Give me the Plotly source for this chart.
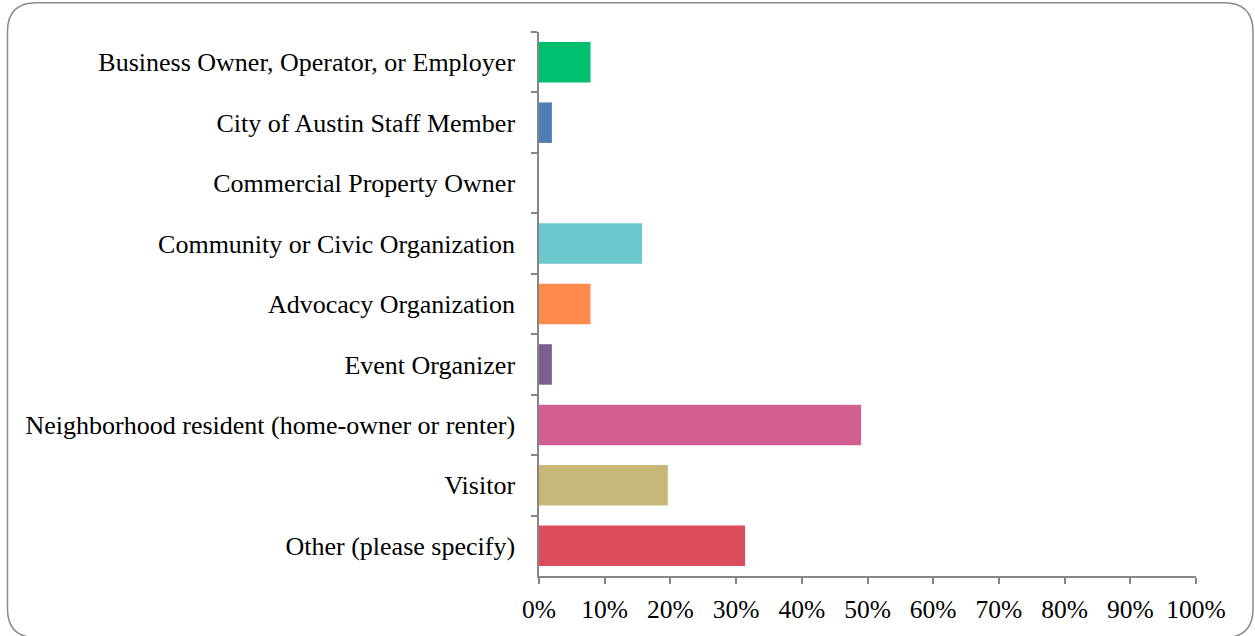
import plotly.graph_objects as go

categories = [
    "Business Owner, Operator, or Employer",
    "City of Austin Staff Member",
    "Commercial Property Owner",
    "Community or Civic Organization",
    "Advocacy Organization",
    "Event Organizer",
    "Neighborhood resident (home-owner or renter)",
    "Visitor",
    "Other (please specify)",
]
percent_values = [7.84, 1.96, 0.0, 15.69, 7.84, 1.96, 49.02, 19.61, 31.37]
bar_colors = ["#00BF6F", "#507CB6", "#A0A0A0", "#6BC8CD", "#FF8B4F",
              "#7D5E90", "#D25F90", "#C7B879", "#DB4D5C"]
x_tick_values = [0, 10, 20, 30, 40, 50, 60, 70, 80, 90, 100]
x_tick_labels = ["0%", "10%", "20%", "30%", "40%", "50%", "60%", "70%", "80%", "90%", "100%"]

W, H = 1255, 636
ML, MR, MT, MB = 539, 59, 32, 57
PW, PH = W - ML - MR, H - MT - MB

FONT = "Liberation Serif"
AX = "#868686"

fig = go.Figure(go.Bar(
    x=percent_values,
    y=categories,
    orientation="h",
    marker=dict(color=bar_colors, line=dict(width=0)),
    hoverinfo="x+y",
))

def px(x):
    return (x - ML) / PW

def py(y):
    return (H - MB - y) / PH

# rounded border rectangle (decoration), defined in pixel space
L, T, R, B, r = 7.5, 2.5, 1253, 641, 29
path = (
    f"M {px(L + r)} {py(T)} L {px(R - r)} {py(T)} "
    f"Q {px(R)} {py(T)} {px(R)} {py(T + r)} "
    f"L {px(R)} {py(B - r)} Q {px(R)} {py(B)} {px(R - r)} {py(B)} "
    f"L {px(L + r)} {py(B)} Q {px(L)} {py(B)} {px(L)} {py(B - r)} "
    f"L {px(L)} {py(T + r)} Q {px(L)} {py(T)} {px(L + r)} {py(T)} Z"
)

fig.update_layout(
    width=W, height=H,
    margin=dict(l=ML, r=MR, t=MT, b=MB, pad=0),
    paper_bgcolor="white",
    plot_bgcolor="white",
    bargap=0.33,
    showlegend=False,
    font=dict(family=FONT, size=26, color="black"),
    shapes=[dict(type="path", xref="paper", yref="paper", path=path,
                 line=dict(color="#8C8C8C", width=1.5), layer="below")],
    xaxis=dict(
        range=[0, 100],
        tickvals=x_tick_values,
        ticktext=x_tick_labels,
        showgrid=False,
        zeroline=False,
        showline=True,
        linecolor=AX,
        linewidth=1.5,
        ticks="outside",
        ticklen=6,
        tickwidth=1.5,
        tickcolor=AX,
        ticklabelstandoff=4,
        tickfont=dict(family=FONT, size=25.5, color="black"),
        fixedrange=True,
    ),
    yaxis=dict(
        categoryorder="array",
        categoryarray=categories,
        autorange="reversed",
        showgrid=False,
        zeroline=False,
        showline=True,
        linecolor=AX,
        linewidth=1.5,
        ticks="outside",
        tickson="boundaries",
        ticklen=6,
        tickwidth=1.5,
        tickcolor=AX,
        ticklabelstandoff=17,
        tickfont=dict(family=FONT, size=26, color="black"),
        fixedrange=True,
    ),
)

fig.write_html(
    "out.html",
    config={"displayModeBar": False},
    post_script="document.body.style.margin='0';document.body.style.padding='0';document.body.style.overflow='hidden';",
)
